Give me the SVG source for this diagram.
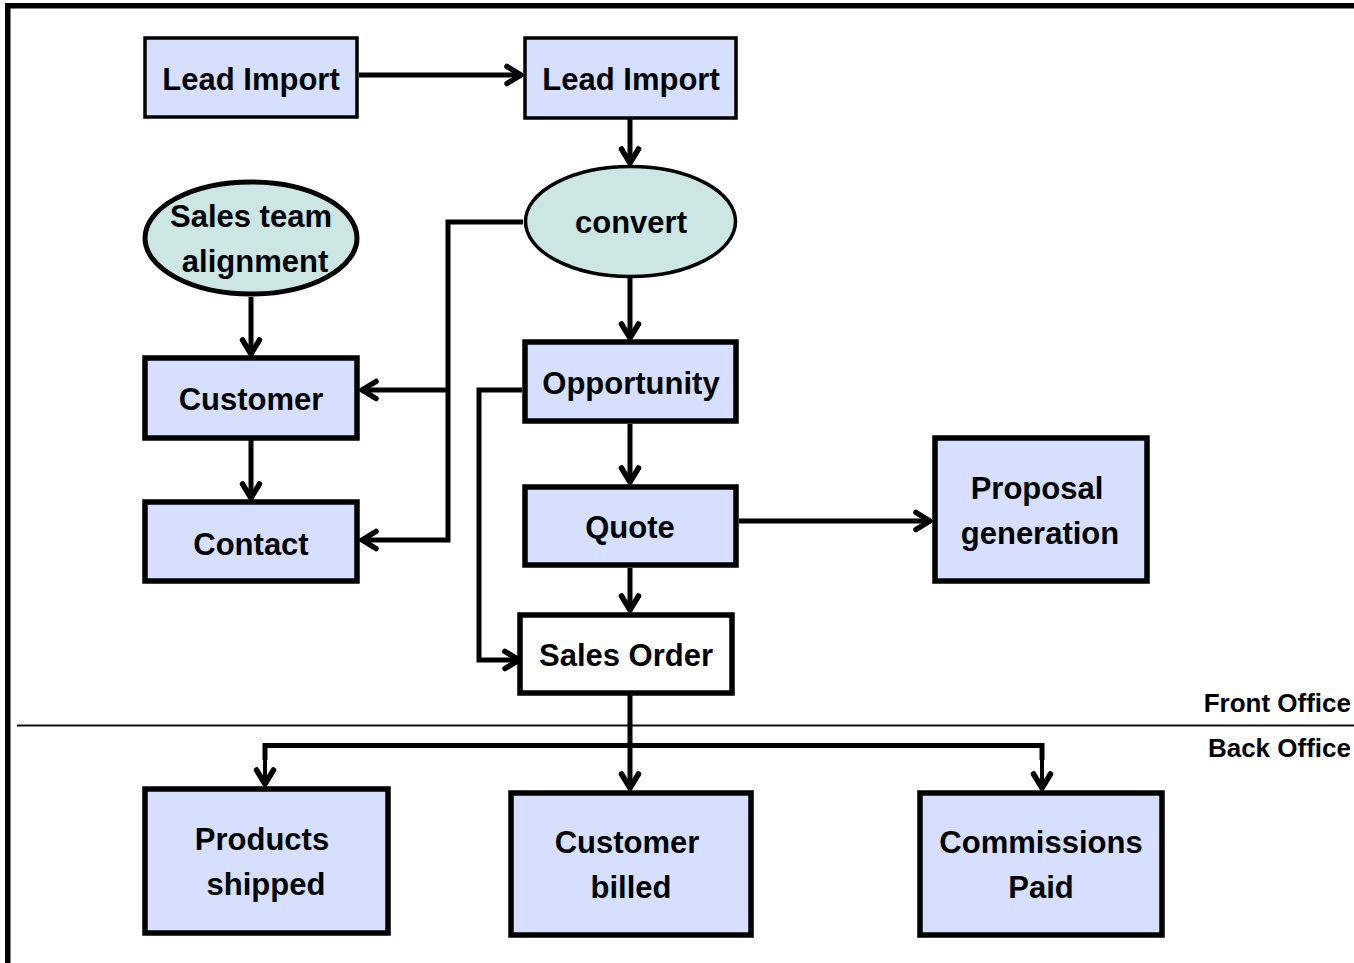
<svg xmlns="http://www.w3.org/2000/svg" width="1354" height="963" viewBox="0 0 1354 963">
<style>
.box{fill:#D6E0FE;stroke:#000;stroke-width:5.5}
.thin{stroke-width:3.5}
.ell{fill:#CCE6E4;stroke:#000;stroke-width:3.5}
.t{font-family:"Liberation Sans",Arial,sans-serif;font-weight:bold;font-size:31px;fill:#000;text-anchor:middle}
.o{font-family:"Liberation Sans",Arial,sans-serif;font-weight:bold;font-size:26px;fill:#000;text-anchor:end}
.c{fill:none;stroke:#000;stroke-width:5;stroke-linejoin:miter}
.cn{fill:none;stroke:#000;stroke-width:4}
</style>
<defs>
<marker id="ah" markerUnits="userSpaceOnUse" viewBox="0 0 22 22" refX="19" refY="11" markerWidth="22" markerHeight="22" orient="auto" overflow="visible">
<path d="M5,2.5 L19,11 L5,19.5" fill="none" stroke="#000" stroke-width="5.5" stroke-linecap="round" stroke-linejoin="round"/>
</marker>
</defs>
<rect x="0" y="0" width="1354" height="963" fill="#fff"/>
<g id="frame">
<rect x="5" y="3" width="1349" height="5.5" fill="#000"/>
<rect x="5" y="3" width="5.5" height="960" fill="#000"/>
<line x1="17" y1="725.5" x2="1354" y2="725.5" stroke="#111" stroke-width="2"/>
</g>
<g id="connectors">
<line class="c" x1="359" y1="75" x2="521" y2="75" marker-end="url(#ah)"/>
<line class="c" x1="630" y1="119" x2="630" y2="163" marker-end="url(#ah)"/>
<line class="c" x1="630" y1="278" x2="630" y2="338" marker-end="url(#ah)"/>
<polyline class="c" points="523,222 448,222 448,540 362,540" marker-end="url(#ah)"/>
<line class="c" x1="448" y1="390" x2="362" y2="390" marker-end="url(#ah)"/>
<polyline class="c" points="522,390 479,390 479,660 519,660" marker-end="url(#ah)"/>
<line class="c" x1="251" y1="297" x2="251" y2="354" marker-end="url(#ah)"/>
<line class="c" x1="251" y1="440" x2="251" y2="498" marker-end="url(#ah)"/>
<line class="c" x1="630" y1="424" x2="630" y2="482" marker-end="url(#ah)"/>
<line class="c" x1="739" y1="521" x2="930" y2="521" marker-end="url(#ah)"/>
<line class="c" x1="630" y1="568" x2="630" y2="610" marker-end="url(#ah)"/>
<line class="c" x1="630" y1="695" x2="630" y2="788" marker-end="url(#ah)"/>
<polyline class="c" points="265,760 265,745.5 1042,745.5 1042,760"/>
<line class="cn" x1="265" y1="748" x2="265" y2="784" marker-end="url(#ah)"/>
<line class="cn" x1="1042" y1="748" x2="1042" y2="788" marker-end="url(#ah)"/>
</g>
<g id="n-lead1"><rect class="box thin" x="145" y="38" width="212" height="79"/><text class="t" x="251" y="90">Lead Import</text></g>
<g id="n-lead2"><rect class="box thin" x="525" y="38" width="211" height="80"/><text class="t" x="631" y="90">Lead Import</text></g>
<g id="n-convert"><ellipse class="ell" cx="630.5" cy="221.5" rx="105" ry="55"/><text class="t" x="631" y="233">convert</text></g>
<g id="n-salesteam"><ellipse class="ell" style="stroke-width:5" cx="251" cy="238" rx="106" ry="56"/><text class="t" x="251" y="227">Sales team</text><text class="t" x="255" y="272">alignment</text></g>
<g id="n-customer"><rect class="box" x="145" y="358" width="212" height="80"/><text class="t" x="251" y="410">Customer</text></g>
<g id="n-contact"><rect class="box" x="145" y="502" width="212" height="79"/><text class="t" x="251" y="555">Contact</text></g>
<g id="n-opportunity"><rect class="box" x="525" y="342" width="211" height="79"/><text class="t" x="631" y="394">Opportunity</text></g>
<g id="n-quote"><rect class="box" x="525" y="487" width="211" height="78"/><text class="t" x="630" y="538">Quote</text></g>
<g id="n-proposal"><rect class="box" x="935" y="438" width="212" height="143"/><text class="t" x="1037" y="499">Proposal</text><text class="t" x="1040" y="544">generation</text></g>
<g id="n-salesorder"><rect class="box" style="fill:#fff" x="520" y="615" width="212" height="78"/><text class="t" x="626" y="666">Sales Order</text></g>
<g id="n-products"><rect class="box" x="145" y="789" width="243" height="144"/><text class="t" x="262" y="850">Products</text><text class="t" x="266" y="895">shipped</text></g>
<g id="n-billed"><rect class="box" x="511" y="793" width="240" height="142"/><text class="t" x="627" y="853">Customer</text><text class="t" x="631" y="898">billed</text></g>
<g id="n-commissions"><rect class="box" x="920" y="793" width="242" height="142"/><text class="t" x="1041" y="853">Commissions</text><text class="t" x="1041" y="898">Paid</text></g>
<g id="labels">
<text class="o" x="1351" y="712">Front Office</text>
<text class="o" x="1351" y="757">Back Office</text>
</g>
</svg>
